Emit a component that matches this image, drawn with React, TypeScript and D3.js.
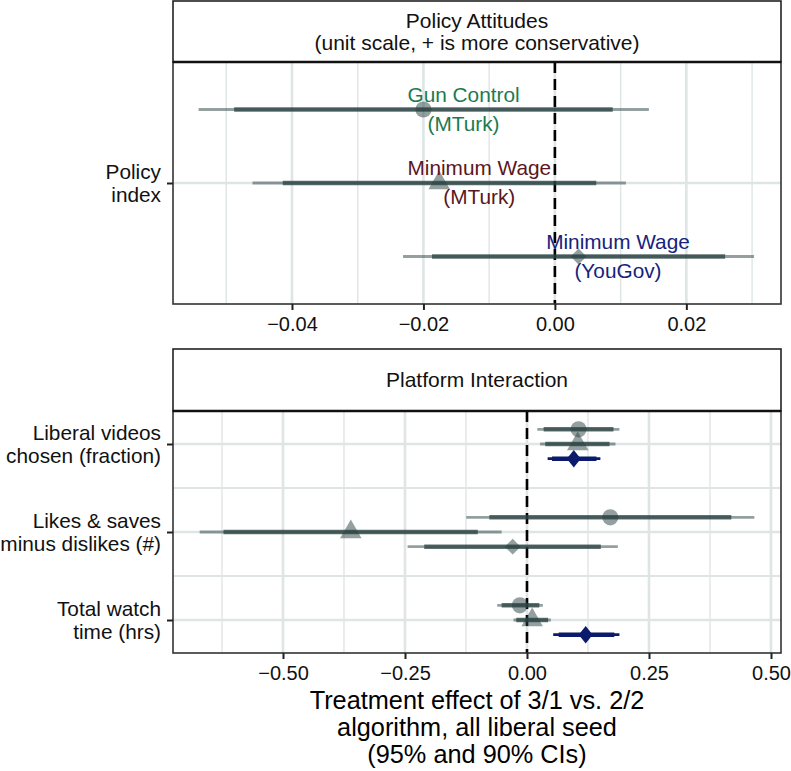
import { useEffect, useRef } from "react";
import * as d3 from "d3";

type Est = { shape: string; lo95: number; lo90: number; est: number; hi90: number; hi95: number; navy?: boolean };

const policyRows = ["Policy index"];
const policyLabels = [["Policy", "index"]];
const policyTicks = [-0.04, -0.02, 0, 0.02];
const policyMinor = [-0.05, -0.03, -0.01, 0.01, 0.03];
const policyEstimates: Est[][] = [
  [
    { shape: "circle", lo95: -0.0542, lo90: -0.0488, est: -0.02, hi90: 0.0088, hi95: 0.0143 },
    { shape: "triangle", lo95: -0.046, lo90: -0.0414, est: -0.0176, hi90: 0.0063, hi95: 0.0108 },
    { shape: "diamond", lo95: -0.0231, lo90: -0.0187, est: 0.0036, hi90: 0.0259, hi95: 0.0303 },
  ],
];
const policyNotes = [
  { lines: ["Gun Control", "(MTurk)"], x: -0.0139, color: "#1c7a50" },
  { lines: ["Minimum Wage", "(MTurk)"], x: -0.0115, color: "#5c1620" },
  { lines: ["Minimum Wage", "(YouGov)"], x: 0.0096, color: "#15237c" },
];

const platformRows = ["Liberal videos", "Likes & saves", "Total watch"];
const platformLabels = [
  ["Liberal videos", "chosen (fraction)"],
  ["Likes & saves", "minus dislikes (#)"],
  ["Total watch", "time (hrs)"],
];
const platformTicks = [-0.5, -0.25, 0, 0.25, 0.5];
const platformMinor = [-0.625, -0.375, -0.125, 0.125, 0.375];
const platformEstimates: Est[][] = [
  [
    { shape: "circle", lo95: 0.0211, lo90: 0.0341, est: 0.1057, hi90: 0.1772, hi95: 0.1894 },
    { shape: "triangle", lo95: 0.0268, lo90: 0.0374, est: 0.104, hi90: 0.1691, hi95: 0.1813 },
    { shape: "diamond", lo95: 0.0423, lo90: 0.0512, est: 0.0959, hi90: 0.1423, hi95: 0.1504, navy: true },
  ],
  [
    { shape: "circle", lo95: -0.1244, lo90: -0.0772, est: 0.1707, hi90: 0.4187, hi95: 0.4659 },
    { shape: "triangle", lo95: -0.6707, lo90: -0.622, est: -0.361, hi90: -0.1008, hi95: -0.052 },
    { shape: "diamond", lo95: -0.2447, lo90: -0.2106, est: -0.0293, hi90: 0.1512, hi95: 0.1862 },
  ],
  [
    { shape: "circle", lo95: -0.061, lo90: -0.052, est: -0.0146, hi90: 0.0252, hi95: 0.0325 },
    { shape: "triangle", lo95: -0.0276, lo90: -0.022, est: 0.0106, hi90: 0.0431, hi95: 0.0488 },
    { shape: "diamond", lo95: 0.0537, lo90: 0.065, est: 0.1203, hi90: 0.1789, hi95: 0.1894, navy: true },
  ],
];

const axisTitle = ["Treatment effect of 3/1 vs. 2/2", "algorithm, all liberal seed", "(95% and 90% CIs)"];

const FONT = "'Liberation Sans', Arial, sans-serif";
const GRID = "#dfe5e5";
const SLATE = "#2a4242";
const NAVY = "#0b1a6b";

const fmt = (d: number) => d3.format(".2f")(d).replace("-", "\u2212");

const symbols: Record<string, { type: d3.SymbolType; size: number; rotate: number }> = {
  circle: { type: d3.symbolCircle, size: 205, rotate: 0 },
  triangle: { type: d3.symbolTriangle, size: 200, rotate: 0 },
  diamond: { type: d3.symbolSquare, size: 125, rotate: 45 },
};

function drawPanel(
  svg: d3.Selection<SVGSVGElement, unknown, null, undefined>,
  opts: {
    stripTop: number;
    top: number;
    bottom: number;
    xDomain: [number, number];
    ticks: number[];
    minor: number[];
    rows: string[];
    labels: string[][];
    estimates: Est[][];
    dodge: number;
    padding: number;
    yMinor: number[];
    strip: string[];
    stripBase: number[];
  },
) {
  const left = 173;
  const right = 781;
  const { top, bottom } = opts;
  const x = d3.scaleLinear().domain(opts.xDomain).range([left, right]);
  const y = d3.scalePoint<string>().domain(opts.rows).range([top, bottom]).padding(opts.padding);
  const g = svg.append("g");

  // グリッド
  g.selectAll(".minor-x")
    .data(opts.minor)
    .join("line")
    .attr("x1", (d) => x(d))
    .attr("x2", (d) => x(d))
    .attr("y1", top)
    .attr("y2", bottom)
    .attr("stroke", GRID)
    .attr("stroke-width", 1.4);
  g.selectAll(".major-x")
    .data(opts.ticks)
    .join("line")
    .attr("x1", (d) => x(d))
    .attr("x2", (d) => x(d))
    .attr("y1", top)
    .attr("y2", bottom)
    .attr("stroke", GRID)
    .attr("stroke-width", 2.6);
  g.selectAll(".minor-y")
    .data(opts.yMinor)
    .join("line")
    .attr("x1", left)
    .attr("x2", right)
    .attr("y1", (i) => (y(opts.rows[i])! + y(opts.rows[i + 1])!) / 2)
    .attr("y2", (i) => (y(opts.rows[i])! + y(opts.rows[i + 1])!) / 2)
    .attr("stroke", GRID)
    .attr("stroke-width", 1.8);
  g.selectAll(".major-y")
    .data(opts.rows)
    .join("line")
    .attr("x1", left)
    .attr("x2", right)
    .attr("y1", (d) => y(d)!)
    .attr("y2", (d) => y(d)!)
    .attr("stroke", GRID)
    .attr("stroke-width", 2.6);

  // ゼロ線
  g.append("line")
    .attr("x1", x(0))
    .attr("x2", x(0))
    .attr("y1", top)
    .attr("y2", bottom)
    .attr("stroke", "#000")
    .attr("stroke-width", 2.6)
    .attr("stroke-dasharray", "11 6");

  // 推定値
  opts.rows.forEach((row, r) => {
    opts.estimates[r].forEach((e, i) => {
      const cy = y(row)! + (i - 1) * opts.dodge;
      const color = e.navy ? NAVY : SLATE;
      g.append("line")
        .attr("x1", x(e.lo95))
        .attr("x2", x(e.hi95))
        .attr("y1", cy)
        .attr("y2", cy)
        .attr("stroke", color)
        .attr("stroke-opacity", e.navy ? 1 : 0.5)
        .attr("stroke-width", 2.8);
      g.append("line")
        .attr("x1", x(e.lo90))
        .attr("x2", x(e.hi90))
        .attr("y1", cy)
        .attr("y2", cy)
        .attr("stroke", color)
        .attr("stroke-opacity", e.navy ? 1 : 0.75)
        .attr("stroke-width", 4.6);
      const sym = symbols[e.shape];
      g.append("path")
        .attr("d", d3.symbol().type(sym.type).size(sym.size)()!)
        .attr(
          "transform",
          `translate(${x(e.est)},${cy})${e.navy ? " scale(0.88,1.1)" : ""} rotate(${sym.rotate})`,
        )
        .attr("fill", color)
        .attr("fill-opacity", e.navy ? 1 : 0.5);
    });
  });

  // 枠とストリップ
  g.append("rect")
    .attr("x", left)
    .attr("y", top)
    .attr("width", right - left)
    .attr("height", bottom - top)
    .attr("fill", "none")
    .attr("stroke", "#333")
    .attr("stroke-width", 1.6);
  g.append("rect")
    .attr("x", left)
    .attr("y", opts.stripTop)
    .attr("width", right - left)
    .attr("height", top - opts.stripTop)
    .attr("fill", "#fff")
    .attr("stroke", "#222")
    .attr("stroke-width", 1.6);
  g.append("line")
    .attr("x1", left)
    .attr("x2", right)
    .attr("y1", top)
    .attr("y2", top)
    .attr("stroke", "#111")
    .attr("stroke-width", 2.6);
  opts.strip.forEach((t, i) => {
    g.append("text")
      .attr("x", (left + right) / 2)
      .attr("y", opts.stripBase[i])
      .attr("text-anchor", "middle")
      .attr("font-size", 21)
      .attr("fill", "#111")
      .text(t);
  });

  // X軸
  const xAxis = g
    .append("g")
    .attr("transform", `translate(0,${bottom})`)
    .call(d3.axisBottom(x).tickValues(opts.ticks).tickSize(6).tickPadding(7).tickFormat((d) => fmt(d as number)));
  xAxis.select(".domain").remove();
  xAxis.selectAll("line").attr("stroke", "#222").attr("stroke-width", 2);
  xAxis.selectAll("text").attr("font-size", 20).attr("font-family", FONT).attr("fill", "#111");

  // Y軸
  const yAxis = g
    .append("g")
    .attr("transform", `translate(${left},0)`)
    .call(d3.axisLeft(y).tickSize(6).tickFormat(() => ""));
  yAxis.select(".domain").remove();
  yAxis.selectAll("line").attr("stroke", "#222").attr("stroke-width", 2);
  opts.rows.forEach((row, r) => {
    opts.labels[r].forEach((t, i) => {
      g.append("text")
        .attr("x", 161)
        .attr("y", y(row)! + (i === 0 ? -4 : 18.5))
        .attr("text-anchor", "end")
        .attr("font-size", 20.8)
        .attr("fill", "#111")
        .text(t);
    });
  });

  return { x, y };
}

export default function App() {
  const ref = useRef<SVGSVGElement | null>(null);

  useEffect(() => {
    if (!ref.current) return;
    const svg = d3.select(ref.current);
    svg.selectAll("*").remove();

    const top = drawPanel(svg, {
      stripTop: 1,
      top: 62,
      bottom: 304,
      xDomain: [-0.0581, 0.0344],
      ticks: policyTicks,
      minor: policyMinor,
      rows: policyRows,
      labels: policyLabels,
      estimates: policyEstimates,
      dodge: 73.5,
      padding: 0.5,
      yMinor: [],
      strip: ["Policy Attitudes", "(unit scale, + is more conservative)"],
      stripBase: [27.5, 50],
    });

    drawPanel(svg, {
      stripTop: 349,
      top: 411,
      bottom: 653,
      xDomain: [-0.7254, 0.5205],
      ticks: platformTicks,
      minor: platformMinor,
      rows: platformRows,
      labels: platformLabels,
      estimates: platformEstimates,
      dodge: 14.7,
      padding: 0.375,
      yMinor: [0, 1],
      strip: ["Platform Interaction"],
      stripBase: [387],
    });

    // 注釈ラベル
    const rowY = top.y(policyRows[0])!;
    policyNotes.forEach((n, i) => {
      const cy = rowY + (i - 1) * 73.5;
      n.lines.forEach((t, j) => {
        svg
          .append("text")
          .attr("x", top.x(n.x))
          .attr("y", cy + (j === 0 ? -8 : 21))
          .attr("text-anchor", "middle")
          .attr("font-size", 20.8)
          .attr("fill", n.color)
          .text(t);
      });
    });

    axisTitle.forEach((t, i) => {
      svg
        .append("text")
        .attr("x", 477)
        .attr("y", 709 + i * 27)
        .attr("text-anchor", "middle")
        .attr("font-size", 25.3)
        .attr("fill", "#000")
        .text(t);
    });
  }, []);

  return (
    <svg
      ref={ref}
      width={791}
      height={771}
      style={{ position: "absolute", left: 0, top: 0, background: "#fff", fontFamily: FONT }}
    />
  );
}
